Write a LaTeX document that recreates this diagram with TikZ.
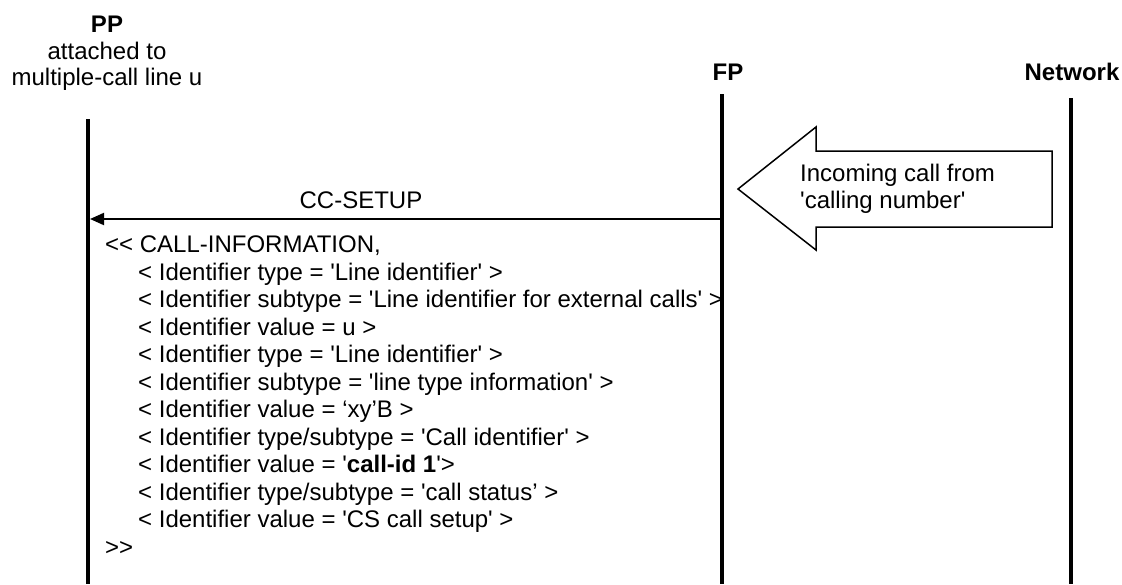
\documentclass[tikz,border=0pt]{standalone}
\usepackage{fontspec}
\newfontfamily\arial{Liberation Sans}
\usetikzlibrary{arrows.meta}
\tikzset{
  txt/.style={inner sep=0pt, font=\arial\fontsize{24}{27.6}\selectfont},
  ltxt/.style={txt, anchor=base west},
  ctxt/.style={txt, anchor=base},
  hdr/.style={txt, anchor=base, font=\arial\bfseries\fontsize{24}{27.6}\selectfont},
  lifeline/.style={line width=4pt, line cap=butt},
  msg/.style={line width=2pt, -{Triangle[length=14pt,width=12pt]}},
  blockarrow/.style={draw, line width=1.5pt, line join=miter, fill=white}
}
\begin{document}
\begin{tikzpicture}[x=1pt,y=-1pt]
\useasboundingbox (0,0) rectangle (1122,584);
% headers
\node[hdr] (pp) at (107,32) {PP};
\node[ctxt] (pp2) at (107,59) {attached to};
\node[ctxt] (pp3) at (107,85) {multiple-call line u};
\node[hdr] (fp) at (728,80) {FP};
\node[hdr] (nw) at (1072,80) {Network};
% message text block
\node[ltxt] (l0) at (105,252.5) {<< CALL-INFORMATION,};
\node[ltxt] (l1) at (138,280) {< Identifier type = 'Line identifier' >};
\node[ltxt] (l2) at (138,307.5) {< Identifier subtype = 'Line identifier for external calls' >};
\node[ltxt] (l3) at (138,335) {< Identifier value = u >};
\node[ltxt] (l4) at (138,362.5) {< Identifier type = 'Line identifier' >};
\node[ltxt] (l5) at (138,390) {< Identifier subtype = 'line type information' >};
\node[ltxt] (l6) at (138,417.5) {< Identifier value = ‘xy’B >};
\node[ltxt] (l7) at (138,445) {< Identifier type/subtype = 'Call identifier' >};
\node[ltxt] (l8) at (138,472.5) {< Identifier value = '\textbf{call-id 1}'>};
\node[ltxt] (l9) at (138,500) {< Identifier type/subtype = 'call status’ >};
\node[ltxt] (l10) at (138,527.5) {< Identifier value = 'CS call setup' >};
\node[ltxt] (l11) at (105,555) {>>};
% lifelines
\coordinate (pptop) at (88,119);
\coordinate (ppbot) at (88,584);
\coordinate (fptop) at (722,94);
\coordinate (fpbot) at (722,584);
\coordinate (nwtop) at (1071,98);
\coordinate (nwbot) at (1071,584);
\draw[lifeline] (pptop) -- (ppbot);
\draw[lifeline] (fptop) -- (fpbot);
\draw[lifeline] (nwtop) -- (nwbot);
% CC-SETUP message
\coordinate (msgstart) at (722,219);
\coordinate (msgend) at (90,219);
\draw[msg] (msgstart) -- (msgend);
\node[ctxt] (ccsetup) at (361,208.3) {CC-SETUP};
% incoming call block arrow
\draw[blockarrow] (738,189) -- (816,127) -- (816,151) -- (1052,151) -- (1052,227) -- (816,227) -- (816,250) -- cycle;
\node[ltxt] (inc1) at (800,181.7) {Incoming call from};
\node[ltxt] (inc2) at (800,208.5) {'calling number'};
\end{tikzpicture}
\end{document}
